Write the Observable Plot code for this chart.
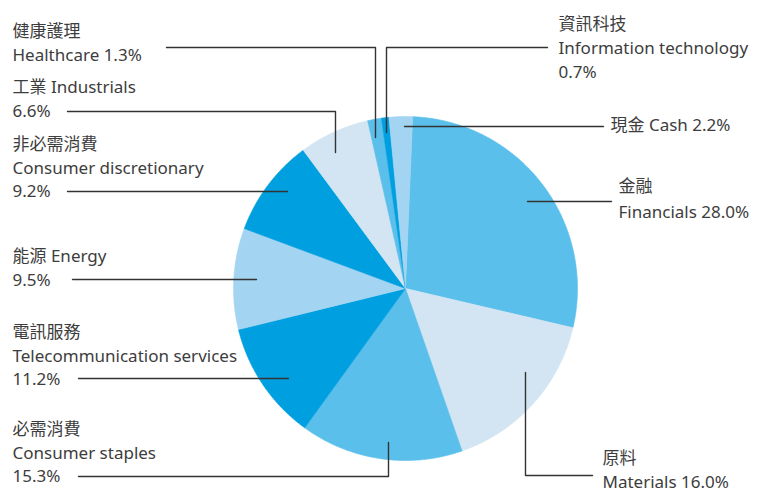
<!DOCTYPE html>
<html>
<head>
<meta charset="utf-8">
<script src="https://cdn.jsdelivr.net/npm/d3@7"></script>
<script src="https://cdn.jsdelivr.net/npm/@observablehq/plot@0.6"></script>
<style>
  html, body { margin: 0; padding: 0; background: #fff; }
  #chart { width: 776px; height: 493px; }
</style>
</head>
<body>
<div id="chart"></div>
<script>
// ---- data (clockwise order, starting just right of 12 o'clock) ----
const categories = ["Financials", "Materials", "Consumer staples", "Telecommunication services", "Energy", "Consumer discretionary", "Industrials", "Healthcare", "Information technology", "Cash"];
const chineseNames = ["金融", "原料", "必需消費", "電訊服務", "能源", "非必需消費", "工業", "健康護理", "資訊科技", "現金"];
const values = [28.0, 16.0, 15.3, 11.2, 9.5, 9.2, 6.6, 1.3, 0.7, 2.2];
const colors = ["#5bbfeb", "#d3e5f2", "#5bbfeb", "#009fe0", "#a3d5f2", "#009fe0", "#d3e5f2", "#5bbfeb", "#009fe0", "#a3d5f2"];

// ---- layout (pixel-space annotation positions) ----
const cx = 405, cy = 288, R = 172, rotation = 2.4 * Math.PI / 180;
// label lines: templates use {zh}, {en}, {v}
const labelLayout = [
  {cat: "Financials", x: 618, ys: [186, 212], lines: ["{zh}", "{en} {v}"], leader: [[527, 201], [611, 201]]},
  {cat: "Materials", x: 602, ys: [458, 482], lines: ["{zh}", "{en} {v}"], leader: [[525, 372], [525, 475], [592, 475]]},
  {cat: "Consumer staples", x: 12, ys: [429, 453, 476], lines: ["{zh}", "{en}", "{v}"], leader: [[388, 442], [388, 476], [78, 476]]},
  {cat: "Telecommunication services", x: 12, ys: [332, 356, 379], lines: ["{zh}", "{en}", "{v}"], leader: [[78, 378], [288, 378]]},
  {cat: "Energy", x: 12, ys: [256, 280], lines: ["{zh} {en}", "{v}"], leader: [[72, 279], [256, 279]]},
  {cat: "Consumer discretionary", x: 12, ys: [144, 168, 191], lines: ["{zh}", "{en}", "{v}"], leader: [[67, 191], [287, 191]]},
  {cat: "Industrials", x: 12, ys: [87, 111], lines: ["{zh} {en}", "{v}"], leader: [[67, 111], [335, 111], [335, 152]]},
  {cat: "Healthcare", x: 12, ys: [31, 55], lines: ["{zh}", "{en} {v}"], leader: [[166, 47], [375, 47], [375, 137]]},
  {cat: "Information technology", x: 558, ys: [24, 48, 72], lines: ["{zh}", "{en}", "{v}"], leader: [[547, 47], [386, 47], [386, 132]]},
  {cat: "Cash", x: 610, ys: [125], lines: ["{zh} {en} {v}"], leader: [[404, 126], [603, 126]]}
];

const data = categories.map((c, i) => ({cat: c, zh: chineseNames[i], value: values[i], color: colors[i]}));

// wedges as polygons
const arcs = d3.pie().sort(null).value(d => d.value).startAngle(rotation).endAngle(rotation + 2 * Math.PI)(data);
const wedgePts = [];
for (const a of arcs) {
  const d = a.data;
  wedgePts.push({cat: d.cat, color: d.color, x: cx, y: cy});
  const steps = Math.max(3, Math.ceil((a.endAngle - a.startAngle) / (Math.PI / 360)));
  for (let i = 0; i <= steps; i++) {
    const t = a.startAngle + (a.endAngle - a.startAngle) * i / steps;
    wedgePts.push({cat: d.cat, color: d.color, x: cx + R * Math.sin(t), y: cy - R * Math.cos(t)});
  }
  wedgePts.push({cat: d.cat, color: d.color, x: cx, y: cy});
}

const byCat = new Map(data.map(d => [d.cat, d]));
const textPts = [];
const leaderPts = [];
for (const L of labelLayout) {
  const d = byCat.get(L.cat);
  L.lines.forEach((tpl, j) => {
    const text = tpl.replace("{zh}", d.zh).replace("{en}", d.cat).replace("{v}", d.value.toFixed(1) + "%");
    textPts.push({x: L.x, y: L.ys[j], text});
  });
  L.leader.forEach(p => leaderPts.push({cat: L.cat, x: p[0], y: p[1]}));
}

const chart = Plot.plot({
  width: 776,
  height: 493,
  margin: 0,
  x: {domain: [0, 776], range: [0, 776], axis: null},
  y: {domain: [0, 493], range: [0, 493], axis: null},
  color: {type: "identity"},
  style: {background: "#fff", fontFamily: "'Noto Sans', 'Noto Sans CJK TC', sans-serif"},
  marks: [
    Plot.line(wedgePts, {x: "x", y: "y", z: "cat", fill: "color", stroke: "color", strokeWidth: 0.6, curve: "linear"}),
    Plot.line(leaderPts, {x: "x", y: "y", z: "cat", stroke: "#333333", strokeWidth: 1.4, curve: "linear"}),
    Plot.text(textPts, {x: "x", y: "y", text: "text", textAnchor: "start", lineAnchor: "middle", fontSize: 17, fill: "#3d3d3d", fontFamily: "'Noto Sans', 'Noto Sans CJK TC', sans-serif"})
  ]
});
document.getElementById("chart").appendChild(chart);
</script>
</body>
</html>
